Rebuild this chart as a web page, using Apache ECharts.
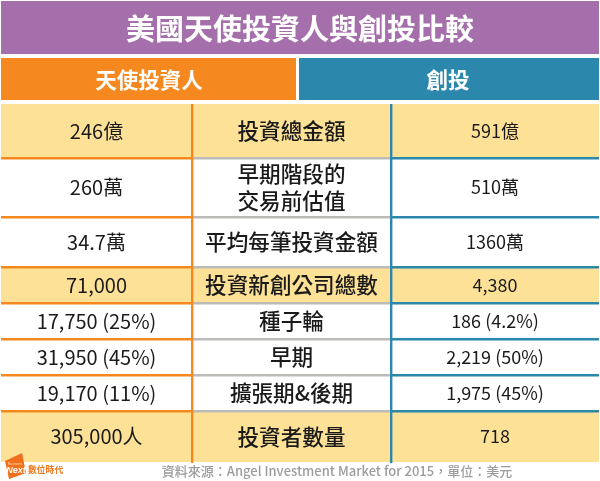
<!DOCTYPE html>
<html>
<head>
<meta charset="utf-8">
<style>html,body{margin:0;padding:0;background:#fff}#main{width:600px;height:481px}</style>
<script src="https://cdn.jsdelivr.net/npm/echarts@6/dist/echarts.min.js"></script>
</head>
<body>
<div id="main"></div>
<script>
// table contents
const titleText = '美國天使投資人與創投比較';
const headers = ['天使投資人', '創投'];
const rowLabels = ['投資總金額', '早期階段的\n交易前估值', '平均每筆投資金額', '投資新創公司總數', '種子輪', '早期', '擴張期&後期', '投資者數量'];
const angelValues = ['246億', '260萬', '34.7萬', '71,000', '17,750 (25%)', '31,950 (45%)', '19,170 (11%)', '305,000人'];
const ventureValues = ['591億', '510萬', '1360萬', '4,380', '186 (4.2%)', '2,219 (50%)', '1,975 (45%)', '718'];
const highlighted = [true, false, false, true, false, false, false, true];
const sourceText = '資料來源：Angel Investment Market for 2015，單位：美元';

// layout of the table, in pixels of the page
const rowEdges = [104, 158, 217, 267, 303, 339, 375, 411, 462];
const colEdges = [1, 192, 391, 599];

const FONT = '"Noto Sans CJK TC"';
const ORANGE = '#f5891f', TEAL = '#2b87ab', CREAM = '#fde197', GREY = '#bdbbb8';

function renderRow(params, api) {
    const i = api.value(0);
    const top = rowEdges[i], bottom = rowEdges[i + 1];
    const children = [];
    const fill = highlighted[i] ? CREAM : '#fff';
    const p0 = api.coord([colEdges[0], top]);
    const p1 = api.coord([colEdges[3], bottom]);
    children.push({type: 'rect', shape: {x: p0[0], y: p0[1], width: p1[0] - p0[0], height: p1[1] - p0[1]}, style: {fill: fill}});
    // row separators
    if (i < rowLabels.length - 1) {
        [[0, ORANGE], [1, GREY], [2, TEAL]].forEach(function (c) {
            children.push({type: 'rect', shape: {x: colEdges[c[0]], y: bottom - 1, width: colEdges[c[0] + 1] - colEdges[c[0]], height: 2.4}, style: {fill: c[1]}, z2: 2});
        });
    }
    // column separators
    children.push({type: 'rect', shape: {x: colEdges[1] - 1, y: top, width: 2.4, height: bottom - top + 1}, style: {fill: ORANGE}, z2: 3});
    children.push({type: 'rect', shape: {x: colEdges[2] - 1, y: top, width: 2.4, height: bottom - top + 1}, style: {fill: TEAL}, z2: 3});
    const mid = (top + bottom) / 2;
    const cell = function (text, col, size, weight) {
        children.push({type: 'text', z2: 4, style: {
            text: text, x: (colEdges[col] + colEdges[col + 1]) / 2, y: mid,
            align: 'center', verticalAlign: 'middle', fill: '#1a1a1a',
            font: weight + ' ' + size + 'px ' + FONT, lineHeight: 27
        }});
    };
    cell(angelValues[i], 0, 20, 400);
    cell(rowLabels[i], 1, 21.6, 500);
    cell(ventureValues[i], 2, 18, 400);
    return {type: 'group', children: children};
}

const chart = echarts.init(document.getElementById('main'));
chart.setOption({
    animation: false,
    backgroundColor: '#fff',
    grid: {left: 0, right: 0, top: 0, bottom: 0},
    xAxis: {type: 'value', min: 0, max: 600, show: false},
    yAxis: {type: 'value', min: 0, max: 481, inverse: true, show: false},
    graphic: [
        {type: 'rect', shape: {x: 1, y: 1, width: 598, height: 53}, style: {fill: '#a56fab'}},
        {type: 'text', style: {text: titleText, x: 300, y: 29, align: 'center', verticalAlign: 'middle', fill: '#fff', font: '700 29px ' + FONT}},
        {type: 'rect', shape: {x: 1, y: 58, width: 295, height: 42}, style: {fill: ORANGE}},
        {type: 'rect', shape: {x: 299, y: 58, width: 300, height: 42}, style: {fill: TEAL}},
        {type: 'text', style: {text: headers[0], x: 149, y: 80, align: 'center', verticalAlign: 'middle', fill: '#fff', font: '700 21.5px ' + FONT}},
        {type: 'text', style: {text: headers[1], x: 448, y: 80, align: 'center', verticalAlign: 'middle', fill: '#fff', font: '700 21.5px ' + FONT}},
        {type: 'text', style: {text: sourceText, x: 337, y: 471, align: 'center', verticalAlign: 'middle', fill: '#9c9c9c', font: '500 13px ' + FONT}},
        // logo
        {type: 'polygon', z: 100, shape: {points: [[5, 461], [22, 453], [26, 473], [9, 479]]}, style: {fill: '#f0701e'}},
        {type: 'text', z: 101, style: {text: 'Business', x: 15, y: 464, rotation: 0, align: 'center', verticalAlign: 'middle', fill: '#fbd9b8', font: '3.5px "Liberation Sans"'}},
        {type: 'text', z: 101, style: {text: 'Next', x: 16, y: 471, align: 'center', verticalAlign: 'middle', fill: '#fff', font: 'italic 700 9px "Liberation Sans"'}},
        {type: 'text', z: 101, style: {text: '數位時代', x: 28, y: 470, verticalAlign: 'middle', fill: '#ef7a1e', font: '700 8.8px ' + FONT}}
    ],
    series: [{
        type: 'custom',
        coordinateSystem: 'cartesian2d',
        silent: true,
        clip: false,
        encode: {x: 0, y: 0},
        data: rowLabels.map(function (_, i) { return [i]; }),
        renderItem: renderRow
    }]
});
</script>
</body>
</html>
